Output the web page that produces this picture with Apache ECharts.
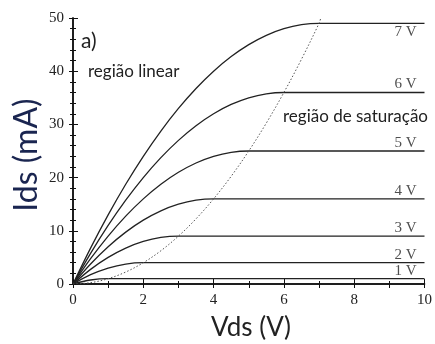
<!DOCTYPE html>
<html><head><meta charset="utf-8">
<script src="https://cdn.jsdelivr.net/npm/echarts@6/dist/echarts.min.js"></script>
<style>html,body{margin:0;padding:0;background:#fff}#c{width:435px;height:344px}</style>
</head><body><div id="c"></div>
<script>
// Vds values (V) and Ids curves (mA)
var vds = [0,0.5,1,1.5,2,2.5,3,3.5,4,4.5,5,5.5,6,6.5,7,10];
var ids7 = [0,6.75,13,18.75,24,28.75,33,36.75,40,42.75,45,46.75,48,48.75,49,49];
var vds6 = [0,0.5,1,1.5,2,2.5,3,3.5,4,4.5,5,5.5,6,10];
var ids6 = [0,5.75,11,15.75,20,23.75,27,29.75,32,33.75,35,35.75,36,36];
var vds5 = [0,0.5,1,1.5,2,2.5,3,3.5,4,4.5,5,10];
var ids5 = [0,4.75,9,12.75,16,18.75,21,22.75,24,24.75,25,25];
var vds4 = [0,0.5,1,1.5,2,2.5,3,3.5,4,10];
var ids4 = [0,3.75,7,9.75,12,13.75,15,15.75,16,16];
var vds3 = [0,0.5,1,1.5,2,2.5,3,10];
var ids3 = [0,2.75,5,6.75,8,8.75,9,9];
var vds2 = [0,0.5,1,1.5,2,10];
var ids2 = [0,1.75,3,3.75,4,4];
var vds1 = [0,0.5,1,10];
var ids1 = [0,0.75,1,1];
var vdsSat = [0,0.5,1,1.5,2,2.5,3,3.5,4,4.5,5,5.5,6,6.5,7,7.05];
var idsSat = [0,0.25,1,2.25,4,6.25,9,12.25,16,20.25,25,30.25,36,42.25,49,50];
var curveLabels = ['1 V','2 V','3 V','4 V','5 V','6 V','7 V'];
var labelVals = [1,4,9,16,25,36,49];
var xTicks = ['0','2','4','6','8','10'];
var yTicks = ['0','10','20','30','40','50'];

function pairs(xs, ys){ return xs.map(function(x,i){return [x, ys[i]];}); }
var curves = [[vds1,ids1],[vds2,ids2],[vds3,ids3],[vds4,ids4],[vds5,ids5],[vds6,ids6],[vds,ids7]];

var chart = echarts.init(document.getElementById('c'), null, {renderer:'canvas'});
var series = curves.map(function(c){
  return {type:'line', xAxisIndex:0, yAxisIndex:0, data:pairs(c[0],c[1]), smooth:0.35, showSymbol:false,
    lineStyle:{color:'#222', width:1.3}, silent:true, animation:false};
});
series.push({type:'line', data:pairs(vdsSat, idsSat), smooth:0.35, showSymbol:false,
  lineStyle:{color:'#555', width:1, type:[1.5,2]}, animation:false});
series.push({type:'scatter', symbolSize:0, animation:false,
  data: labelVals.map(function(v,i){
    return {value:[10, v], label:{show:true, formatter:curveLabels[i], position:'left', distance:8,
      offset:[0, i===6 ? 9 : -8], fontFamily:'Liberation Serif', fontSize:15, color:'#222'}};
  })
});
var axisLine = {show:true, lineStyle:{color:'#111', width:1.5}};
chart.setOption({
  animation:false,
  grid:{left:73, right:7, top:18, bottom:60, containLabel:false},
  xAxis:[
    {type:'value', position:'bottom', min:0, max:10, interval:2, axisLine:axisLine,
     axisTick:{show:true, inside:true, length:5, lineStyle:{color:'#111'}},
     minorTick:{show:true, splitNumber:2, length:3, lineStyle:{color:'#111'}},
     splitLine:{show:false},
     axisLabel:{margin:9, fontFamily:'Liberation Serif', fontSize:15, color:'#222',
       formatter:function(v){return xTicks[Math.round(v/2)];}}},
    {type:'value', position:'top', min:0, max:10, interval:1, axisLine:axisLine,
     axisTick:{show:true, inside:true, length:4, lineStyle:{color:'#111'}},
     splitLine:{show:false}, axisLabel:{show:false}}
  ],
  yAxis:[
    {type:'value', position:'left', min:0, max:50, interval:10, axisLine:axisLine,
     axisTick:{show:true, inside:true, length:5, lineStyle:{color:'#111'}},
     minorTick:{show:true, splitNumber:5, length:3, lineStyle:{color:'#111'}},
     splitLine:{show:false},
     axisLabel:{margin:9, fontFamily:'Liberation Serif', fontSize:15, color:'#222',
       formatter:function(v){return yTicks[Math.round(v/10)];}}},
    {type:'value', position:'right', min:0, max:50, interval:10, axisLine:axisLine,
     axisTick:{show:true, inside:true, length:4, lineStyle:{color:'#111'}},
     minorTick:{show:true, splitNumber:5, length:3, lineStyle:{color:'#111'}},
     splitLine:{show:false}, axisLabel:{show:false}}
  ],
  series: series,
  graphic:[
    {type:'text', rotation:Math.PI/2, x:27, y:155,
     style:{text:'Ids (mA)', fontFamily:'Lato', fontSize:32, fill:'#1a2550', align:'center', verticalAlign:'middle'}},
    {type:'text', x:251, y:328,
     style:{text:'Vds (V)', fontFamily:'Lato', fontSize:26, fill:'#222', align:'center', verticalAlign:'middle'}},
    {type:'text', x:81, y:41,
     style:{text:'a)', fontFamily:'Lato', fontSize:21, fill:'#222', align:'left', verticalAlign:'middle'}},
    {type:'text', x:88, y:72,
     style:{text:'região linear', fontFamily:'Lato', fontSize:17, fill:'#222', align:'left', verticalAlign:'middle'}},
    {type:'text', x:428, y:117,
     style:{text:'região de saturação', fontFamily:'Lato', fontSize:17, fill:'#222', align:'right', verticalAlign:'middle'}}
  ]
});
</script></body></html>
